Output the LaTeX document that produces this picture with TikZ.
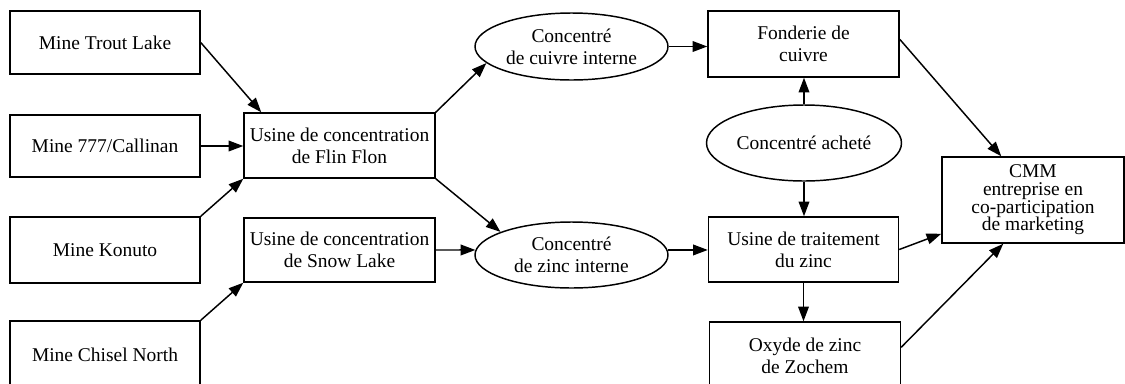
\documentclass[tikz,border=0pt]{standalone}
\usepackage{fontspec}
\setmainfont{Liberation Serif}
\usetikzlibrary{shapes.geometric,arrows.meta,calc}
\begin{document}
\begin{tikzpicture}[x=0.75pt,y=-0.75pt,
  every node/.style={font=\fontsize{14.6}{16.5}\selectfont, align=center, inner sep=0pt},
  sz/.style 2 args={minimum width=#1*0.75pt, minimum height=#2*0.75pt},
  box/.style={draw, line width=1.1pt, rectangle},
  oval/.style={draw, line width=1.1pt, ellipse},
  arr/.style={-{Triangle[length=11pt,width=8pt]}, line width=1.1pt},
  tight/.style={font=\fontsize{14.6}{13.3}\selectfont},
]
\clip (0,0) rectangle (1125,383);
% left column
\node[box, sz={190}{63}] (trout) at (105,42.5) {Mine Trout Lake};
\node[box, sz={190}{62}] (call) at (105,146) {Mine 777/Callinan};
\node[box, sz={190}{66}] (konuto) at (105,250) {Mine Konuto};
\node[box, sz={190}{68}] (chisel) at (105,355) {Mine Chisel North};
% concentrators
\node[box, sz={191}{65}] (flin) at (339.5,145.5) {Usine de concentration\\de Flin Flon};
\node[box, sz={191}{64}] (snow) at (339.5,250) {Usine de concentration\\de Snow Lake};
% ellipses
\node[oval, sz={193}{67}] (cu) at (571.5,46.5) {};
\node (cut) at (cu.center) {Concentré\\de cuivre interne};
\node[oval, sz={193}{66}] (zn) at (571.5,255) {};
\node (znt) at (zn.center) {Concentré\\de zinc interne};
\node[oval, sz={195}{76}] (achete) at (804,143) {};
\node (achetet) at (achete.center) {Concentré acheté};
% right column
\node[box, sz={191}{66}] (fond) at (803.5,44) {Fonderie de\\cuivre};
\node[box, sz={190}{65}] (zproc) at (803.5,249.5) {Usine de traitement\\du zinc};
\node[box, sz={191}{68}] (oxy) at (805,356) {Oxyde de zinc\\de Zochem};
\node[box, tight, sz={182}{86}] (cmm) at (1033,200) {CMM\\entreprise en\\co-participation\\de marketing};
% connectors
\draw[arr] (trout.east) -- ($(flin.north west)+(18,0)$);
\draw[arr] (call.east) -- (call.east -| flin.west);
\draw[arr] (konuto.north east) -- (flin.south west);
\draw[arr] (chisel.north east) -- (snow.south west);
\draw[arr] (flin.north east) -- (cu.191);
\draw[arr] (flin.south east) -- (zn.162);
\draw[arr] (snow.east) -- (zn.177);
\draw[arr] (cu.east) -- (cu.east -| fond.west);
\draw[arr] (zn.3) -- (zn.3 -| zproc.west);
\draw[arr] (achete.north) -- (achete.north |- fond.south);
\draw[arr] (achete.south) -- (achete.south |- zproc.north);
\draw[arr] (zproc.south) -- (zproc.south |- oxy.north);
\draw[arr] ($(fond.north east)+(0,29)$) -- ($(cmm.north west)+(60,0)$);
\draw[arr] (zproc.east) -- ($(cmm.south west)+(0,-10)$);
\draw[arr] ($(oxy.north east)+(0,26)$) -- ($(cmm.south west)+(62,0)$);
\end{tikzpicture}
\end{document}
